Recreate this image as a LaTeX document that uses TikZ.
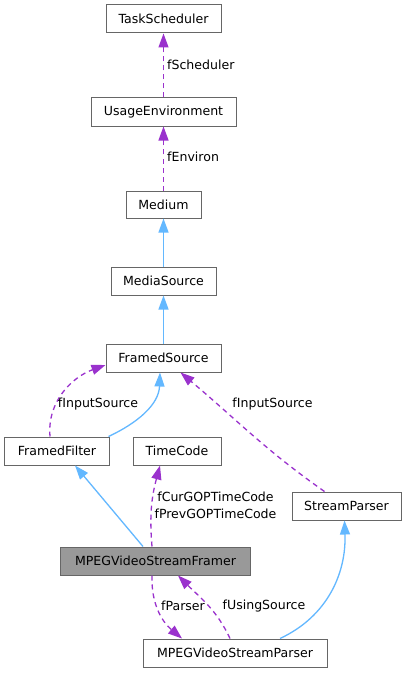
\documentclass[tikz,border=0pt]{standalone}
\usepackage{fontspec}
\setmainfont{DejaVu Sans}
\usetikzlibrary{arrows.meta}
\definecolor{edgepurple}{HTML}{9A32CD}
\definecolor{edgeblue}{HTML}{63B8FF}
\definecolor{boxborder}{HTML}{666666}
\definecolor{boxgray}{HTML}{999999}
\begin{document}
\begin{tikzpicture}[x=1bp,y=1bp,
  cls/.style={draw=boxborder,line width=1bp,fill=white,rectangle,inner sep=0pt,minimum height=28bp,font=\fontsize{12.6}{14}\selectfont},
  hl/.style={cls,fill=boxgray},
  inh/.style={draw=edgeblue,line width=1.3bp,-{Triangle[length=14bp,width=10bp]}},
  use/.style={draw=edgepurple,line width=1.3bp,dash pattern=on 5bp off 4bp,-{Triangle[length=14bp,width=10bp]}},
  lbl/.style={inner sep=0pt,font=\fontsize{12.6}{17}\selectfont}]
\useasboundingbox (0,0) rectangle (406,-673);
\fill[white] (0,0) rectangle (406,-673);
\node[cls,minimum width=115bp] (ts) at (163.5,-19) {TaskScheduler};
\node[cls,minimum width=145bp] (ue) at (163.5,-112) {UsageEnvironment};
\node[cls,minimum width=75bp,minimum height=27bp] (me) at (163.5,-204.5) {Medium};
\node[cls,minimum width=105bp] (ms) at (163.5,-281) {MediaSource};
\node[cls,minimum width=115bp] (fs) at (163.5,-358) {FramedSource};
\node[cls,minimum width=104bp] (ff) at (57,-451) {FramedFilter};
\node[cls,minimum width=88bp] (tc) at (177,-451) {TimeCode};
\node[cls,minimum width=109bp] (sp) at (346.5,-506) {StreamParser};
\node[hl,minimum width=189bp] (fr) at (155.5,-561) {MPEGVideoStreamFramer};
\node[cls,minimum width=184bp] (pa) at (235,-653) {MPEGVideoStreamParser};
% edges
\draw[use] (ue.north) -- (ts.south);
\node[lbl,anchor=west] (l1) at (167,-65) {fScheduler};
\draw[use] (me.north) -- (ue.south);
\node[lbl,anchor=west] (l2) at (167,-157) {fEnviron};
\draw[inh] (ms.north) -- (me.south);
\draw[inh] (fs.north) -- (ms.south);
\draw[inh] ([xshift=-1bp]ff.north east) to[out=25,in=-92] ([xshift=-3.5bp]fs.south);
\draw[use] ([xshift=-7bp]ff.north) to[out=95,in=200] ([yshift=-7bp]fs.west);
\node[lbl] (l3) at (98,-404) {fInputSource};
\draw[use] ([xshift=-22bp]sp.north) to[out=145,in=-40] ([xshift=17bp]fs.south);
\node[lbl] (l4) at (272.5,-404) {fInputSource};
\draw[inh] ([xshift=-12.5bp]fr.north) -- ([xshift=18bp]ff.south);
\draw[use] ([xshift=-3.5bp]fr.north) to[out=95,in=-105] ([xshift=-17bp]tc.south);
\node[lbl,align=center] (l5) at (215.5,-505.5) {fCurGOPTimeCode\\fPrevGOPTimeCode};
\draw[inh] ([xshift=45bp]pa.north) to[out=25,in=-88] ([xshift=-2bp]sp.south);
\draw[use] ([xshift=-3.5bp]fr.south) to[out=-92,in=140] ([xshift=-53bp]pa.north);
\node[lbl] (l6) at (183,-606) {fParser};
\draw[use] ([xshift=-5bp]pa.north) to[out=115,in=-45] ([xshift=22.5bp]fr.south);
\node[lbl] (l7) at (264,-606) {fUsingSource};
\end{tikzpicture}
\end{document}
